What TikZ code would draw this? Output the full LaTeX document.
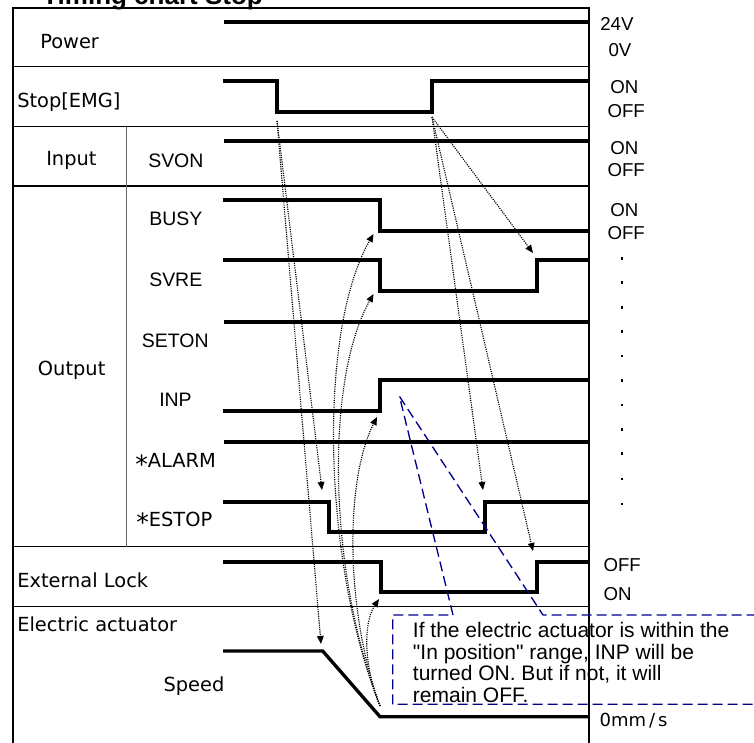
\documentclass[tikz,border=0pt]{standalone}
\usepackage{fontspec}
\usepackage{graphicx}
\setmainfont{Liberation Sans}
\newfontfamily\gothic{DejaVu Sans}
\newfontfamily\notefont{Liberation Sans}[Ligatures=TeXOff]
\usetikzlibrary{arrows.meta}
\definecolor{notecol}{RGB}{0,0,140}
\begin{document}
\begin{tikzpicture}[x=0.75pt,y=-0.75pt,
  frame/.style={line width=1.1pt},
  thinsep/.style={line width=0.5pt, black!60},
  sig/.style={line width=3pt},
  spd/.style={line width=2.5pt},
  lbl/.style={anchor=base west, inner sep=0pt, font=\gothic\fontsize{14.55}{16}\selectfont},
  albl/.style={anchor=base west, inner sep=0pt, font=\fontsize{14.6}{16}\selectfont},
  rlbl/.style={anchor=base west, inner sep=0pt, font=\fontsize{14}{16}\selectfont},
  notetxt/.style={anchor=base west, inner sep=0pt, font=\notefont\fontsize{15.75}{16}\selectfont},
  dep/.style={line width=0.85pt, dash pattern=on 0.85pt off 0.85pt, -{Triangle[length=6pt,width=5pt]}},
  callout/.style={draw=notecol, line width=1pt, dash pattern=on 7.5pt off 3.75pt}
]
\useasboundingbox (0,0) rectangle (754,743);

% title (cut by the top edge, as in the reference)
\node[anchor=base west, inner sep=0pt, font=\bfseries\fontsize{19.5}{20}\selectfont] (title) at (42,4.5) {Timing chart Stop};

% frame
\draw[frame] (13,743) -- (13,8) -- (589,8) -- (589,743);
\draw[frame] (13,66.7) -- (589,66.7);
\draw[frame] (13,126.7) -- (589,126.7);
\draw[frame] (13,186) -- (589,186);
\draw[frame] (13,546.7) -- (589,546.7);
\draw[frame] (13,606.7) -- (589,606.7);
\draw[thinsep] (126.7,126.7) -- (126.7,546.7);

% left labels
\node[lbl] (lpower) at (40,48.3) {Power};
\node[lbl] (lstop) at (17,107.3) {Stop[EMG]};
\node[lbl] (linput) at (46,165.7) {Input};
\node[albl] (lsvon) at (148,167.3) {SVON};
\node[albl] (lbusy) at (149,225) {BUSY};
\node[albl] (lsvre) at (149,286) {SVRE};
\node[albl] (lseton) at (141.7,347.3) {SETON};
\node[lbl] (loutput) at (37.7,375.7) {Output};
\node[albl] (linp) at (159,406.7) {INP};
\node[lbl] (lalarm) at (135,467.7) {\raisebox{-0.55ex}{\scalebox{1.3}{*}}ALARM};
\node[lbl] (lestop) at (136,526) {\raisebox{-0.55ex}{\scalebox{1.3}{*}}ESTOP};
\node[lbl] (lext) at (17,587.3) {External Lock};
\node[lbl] (lact) at (17,631.7) {Electric actuator};
\node[lbl] (lspeed) at (163.3,691.7) {Speed};

% right labels
\node[rlbl] (r24) at (600,30.7) {24V};
\node[rlbl] (r0) at (608.3,56) {0V};
\node[rlbl] (ron1) at (610,93.3) {ON};
\node[rlbl] (roff1) at (607.3,117.3) {OFF};
\node[rlbl] (ron2) at (610,154) {ON};
\node[rlbl] (roff2) at (607.3,176.7) {OFF};
\node[rlbl] (ron3) at (610,216) {ON};
\node[rlbl] (roff3) at (607.3,239.3) {OFF};
\foreach \i/\yy in {1/258.3,2/282.3,3/307.3,4/331.3,5/356,6/380.3,7/405,8/429.3,9/453.3,10/479,11/504}
  \node[fill, inner sep=0pt, minimum size=1.8pt] (dot\i) at (622,\yy) {};
\node[rlbl] (roff4) at (603.3,571.7) {OFF};
\node[rlbl] (ron4) at (603.3,600) {ON};
\node[anchor=base west, inner sep=0pt, font=\gothic\fontsize{13.5}{16}\selectfont] (rspd) at (599.3,726.7) {0mm\,/\,s};

% signals
\draw[sig] (224,22.3) -- (589,22.3);
\draw[sig] (223,81) -- (277,81) -- (277,112) -- (432,112) -- (432,81) -- (589,81);
\draw[sig] (224,141.3) -- (589,141.3);
\draw[sig] (223,200) -- (380,200) -- (380,231) -- (589,231);
\draw[sig] (223,260) -- (380,260) -- (380,291) -- (536.7,291) -- (536.7,260) -- (589,260);
\draw[sig] (224,322.3) -- (589,322.3);
\draw[sig] (223,411) -- (380,411) -- (380,380.3) -- (589,380.3);
\draw[sig] (224,442.3) -- (589,442.3);
\draw[sig] (223,501.7) -- (328.5,501.7) -- (328.5,532.3) -- (485,532.3) -- (485,501.7) -- (589,501.7);
\draw[sig] (223,561.7) -- (380.5,561.7) -- (380.5,591.7) -- (536.7,591.7) -- (536.7,561.7) -- (589,561.7);
\draw[spd] (223,651) -- (322.7,651) -- (380,716.7) -- (589,716.7);

% dependency points
\coordinate (stopF) at (277,121);
\coordinate (stopR) at (432,117);
\coordinate (spdS) at (380,706);
\coordinate (estopF) at (322,490);
\coordinate (speedK) at (321,644);
\coordinate (svreR) at (533,253);
\coordinate (estopR) at (483,490);
\coordinate (extR) at (533,551);
\coordinate (busyF) at (373.5,234);
\coordinate (svreF) at (373.5,294);
\coordinate (inpR) at (377,417);
\coordinate (extF) at (379,599);

\draw[dep] (stopF) -- (estopF);
\draw[dep] (stopF) -- (speedK);
\draw[dep] (stopR) -- (svreR);
\draw[dep] (stopR) -- (estopR);
\draw[dep] (stopR) -- (extR);
\draw[dep] (spdS) .. controls (322,560) and (318,330) .. (busyF);
\draw[dep] (spdS) .. controls (328,570) and (325,380) .. (svreF);
\draw[dep] (spdS) .. controls (345,610) and (345,480) .. (inpR);
\draw[dep] (spdS) .. controls (365,670) and (362,625) .. (extF);

% callout note
\coordinate (apex) at (399.5,396.5);
\draw[callout] (453,615) -- (apex) -- (543,615) -- (765,615) -- (765,704.3) -- (392.7,704.3) -- (392.7,615) -- cycle;
\node[notetxt] (note1) at (412.7,637.3) {If the electric actuator is within the};
\node[notetxt] (note2) at (412.7,659) {"In position" range, INP will be};
\node[notetxt] (note3) at (412.7,680.5) {turned ON. But if not, it will};
\node[notetxt] (note4) at (412.7,702) {remain OFF.};
\end{tikzpicture}
\end{document}
